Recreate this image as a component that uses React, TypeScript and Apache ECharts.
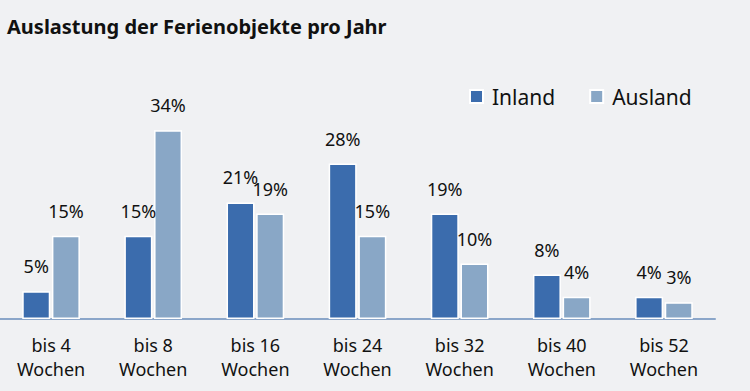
import React, { useEffect, useRef } from "react";
import * as echarts from "echarts";

const categories = ["bis 4\nWochen", "bis 8\nWochen", "bis 16\nWochen", "bis 24\nWochen", "bis 32\nWochen", "bis 40\nWochen", "bis 52\nWochen"];
const inland = [5, 15, 21, 28, 19, 8, 4];
const ausland = [15, 34, 19, 15, 10, 4, 3];
const seriesNames = ["Inland", "Ausland"];
const titleText = "Auslastung der Ferienobjekte pro Jahr";

const FONT = "Noto Sans";

export default function App() {
  const ref = useRef<HTMLDivElement>(null);
  useEffect(() => {
    if (!ref.current) return;
    const chart = echarts.init(ref.current, null, { renderer: "svg" });
    const label = {
      show: true,
      position: "top" as const,
      distance: 16,
      formatter: "{c}%",
      fontFamily: FONT,
      fontSize: 18,
      color: "#111",
    };
    chart.setOption({
      animation: false,
      backgroundColor: "#f0f1f3",
      title: {
        text: titleText,
        left: 2,
        top: 11,
        textStyle: { fontFamily: FONT, fontWeight: "bold", fontSize: 20, color: "#111" },
      },
      legend: {
        data: seriesNames,
        left: 464,
        top: 81,
        itemWidth: 13,
        itemHeight: 13,
        itemGap: 34,
        icon: "rect",
        textStyle: { fontFamily: FONT, fontSize: 21, color: "#111", padding: [0, 0, 0, 4] },
      },
      grid: { left: 0, right: 35, top: 97, bottom: 72 },
      xAxis: {
        type: "category",
        data: categories,
        axisLine: { lineStyle: { color: "#8ba6c9", width: 2 } },
        axisTick: { show: false },
        axisLabel: { fontFamily: FONT, fontSize: 18, color: "#111", lineHeight: 24, margin: 14 },
      },
      yAxis: {
        type: "value",
        min: 0,
        max: 40,
        show: false,
        splitLine: { show: false },
      },
      series: [
        {
          name: seriesNames[0],
          type: "bar",
          data: inland,
          barWidth: 28,
          barGap: "6%",
          itemStyle: { color: "#3b6cad", borderColor: "#ffffff", borderWidth: 1.5 },
          label,
        },
        {
          name: seriesNames[1],
          type: "bar",
          data: ausland,
          barWidth: 28,
          itemStyle: { color: "#89a7c6", borderColor: "#ffffff", borderWidth: 1.5 },
          label,
        },
      ],
    });
    return () => chart.dispose();
  }, []);
  return (
    <div
      ref={ref}
      style={{ position: "absolute", left: 0, top: 0, width: 750, height: 391 }}
    />
  );
}
